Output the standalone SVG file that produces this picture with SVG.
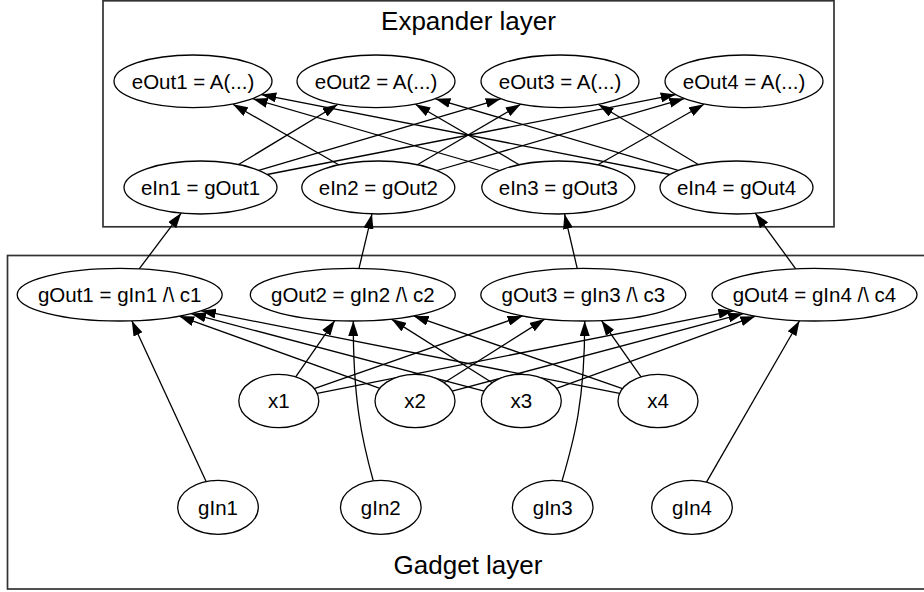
<svg xmlns="http://www.w3.org/2000/svg" width="924" height="592" viewBox="0 0 924 592">
<style>
.cl{fill:none;stroke:#333;stroke-width:1.7}
.nd ellipse{fill:#fff;stroke:#000;stroke-width:1.3}
.nd text{font-family:"Liberation Sans",Arial,sans-serif;font-size:20.5px;text-anchor:middle;fill:#000}
.tt{font-family:"Liberation Sans",Arial,sans-serif;font-size:26px;text-anchor:middle;fill:#000}
.e line,.e path{stroke:#000;stroke-width:1.3;fill:none;marker-end:url(#ah)}
</style>
<defs>
<marker id="ah" markerUnits="userSpaceOnUse" viewBox="0 0 15 10" refX="15" refY="5" markerWidth="15" markerHeight="10" orient="auto">
<path d="M0,0 L15,5 L0,10 z" fill="#000"/>
</marker>
</defs>
<rect width="924" height="592" fill="#fff"/>
<g id="cluster_expander">
<rect class="cl" x="103" y="0.8" width="731" height="226"/>
<text class="tt" x="468.5" y="30">Expander layer</text>
</g>
<g id="cluster_gadget">
<rect class="cl" x="7.5" y="255.5" width="922" height="333.5"/>
<text class="tt" x="468" y="574">Gadget layer</text>
</g>
<g id="edges" class="e">
<line x1="238.5" y1="164.5" x2="337.7" y2="104.5"/>
<line x1="258.7" y1="170.3" x2="500.7" y2="98.8"/>
<line x1="267.1" y1="174.5" x2="675.7" y2="94.6"/>
<line x1="338.7" y1="164.8" x2="232.9" y2="104.2"/>
<line x1="417.3" y1="164.7" x2="520.7" y2="104.3"/>
<line x1="436.9" y1="170.5" x2="684.3" y2="98.6"/>
<line x1="499.7" y1="170.5" x2="252.7" y2="98.7"/>
<line x1="519.2" y1="164.7" x2="415.4" y2="104.3"/>
<line x1="597.9" y1="164.8" x2="704" y2="104.2"/>
<line x1="669.9" y1="174.5" x2="261.3" y2="94.6"/>
<line x1="678.2" y1="170.3" x2="435.4" y2="98.8"/>
<line x1="698.3" y1="164.5" x2="598.5" y2="104.5"/>
<line x1="139.2" y1="268.9" x2="181.2" y2="213.1"/>
<line x1="359" y1="268.4" x2="372" y2="213.9"/>
<line x1="577.2" y1="268.4" x2="564.5" y2="213.9"/>
<line x1="795.7" y1="268.8" x2="755.2" y2="213.2"/>
<line x1="295.7" y1="376.8" x2="334.8" y2="320.6"/>
<line x1="314.2" y1="388.6" x2="522.6" y2="315.9"/>
<line x1="317.2" y1="393.4" x2="733.4" y2="310.8"/>
<line x1="379.8" y1="388.3" x2="179.2" y2="316.1"/>
<line x1="444.1" y1="382.7" x2="544.7" y2="319.1"/>
<line x1="452.2" y1="391.1" x2="743.3" y2="313.6"/>
<line x1="484.1" y1="391.2" x2="191" y2="313.6"/>
<line x1="492.2" y1="382.7" x2="391.4" y2="319.1"/>
<line x1="556.5" y1="388.3" x2="755.3" y2="316.2"/>
<line x1="619.6" y1="393.4" x2="200.9" y2="310.7"/>
<line x1="622.5" y1="388.6" x2="413.6" y2="315.9"/>
<line x1="641" y1="376.8" x2="601.5" y2="320.6"/>
<line x1="206.1" y1="481.5" x2="131.8" y2="320.8"/>
<path d="M373.3,481 C362,440 353,400 353.3,321"/>
<path d="M562,481 C574,440 585,400 584.7,321"/>
<line x1="706.5" y1="482.1" x2="799.5" y2="320.7"/>
</g>
<g id="eOut1" class="nd"><ellipse cx="193" cy="81.3" rx="79" ry="26.3"/><text x="193" y="88.8">eOut1 = A(...)</text></g>
<g id="eOut2" class="nd"><ellipse cx="376" cy="81.3" rx="79" ry="26.3"/><text x="376" y="88.8">eOut2 = A(...)</text></g>
<g id="eOut3" class="nd"><ellipse cx="560" cy="81.3" rx="79" ry="26.3"/><text x="560" y="88.8">eOut3 = A(...)</text></g>
<g id="eOut4" class="nd"><ellipse cx="744" cy="81.3" rx="79" ry="26.3"/><text x="744" y="88.8">eOut4 = A(...)</text></g>
<g id="eIn1" class="nd"><ellipse cx="200.5" cy="187.5" rx="76.5" ry="26.5"/><text x="200.5" y="195">eIn1 = gOut1</text></g>
<g id="eIn2" class="nd"><ellipse cx="378.3" cy="187.5" rx="76.5" ry="26.5"/><text x="378.3" y="195">eIn2 = gOut2</text></g>
<g id="eIn3" class="nd"><ellipse cx="558.3" cy="187.5" rx="76.5" ry="26.5"/><text x="558.3" y="195">eIn3 = gOut3</text></g>
<g id="eIn4" class="nd"><ellipse cx="736.5" cy="187.5" rx="76.5" ry="26.5"/><text x="736.5" y="195">eIn4 = gOut4</text></g>
<g id="gOut1" class="nd"><ellipse cx="119.7" cy="294.7" rx="102.5" ry="26.3"/><text x="119.7" y="302">gOut1 = gIn1 /\ c1</text></g>
<g id="gOut2" class="nd"><ellipse cx="352.8" cy="294.7" rx="102.5" ry="26.3"/><text x="352.8" y="302">gOut2 = gIn2 /\ c2</text></g>
<g id="gOut3" class="nd"><ellipse cx="583.3" cy="294.7" rx="102.5" ry="26.3"/><text x="583.3" y="302">gOut3 = gIn3 /\ c3</text></g>
<g id="gOut4" class="nd"><ellipse cx="814.5" cy="294.7" rx="102.5" ry="26.3"/><text x="814.5" y="302">gOut4 = gIn4 /\ c4</text></g>
<g id="x1" class="nd"><ellipse cx="278.8" cy="401" rx="40" ry="26.7"/><text x="278.8" y="408.3">x1</text></g>
<g id="x2" class="nd"><ellipse cx="415" cy="401" rx="40" ry="26.7"/><text x="415" y="408.3">x2</text></g>
<g id="x3" class="nd"><ellipse cx="521.3" cy="401" rx="40" ry="26.7"/><text x="521.3" y="408.3">x3</text></g>
<g id="x4" class="nd"><ellipse cx="658" cy="401" rx="40" ry="26.7"/><text x="658" y="408.3">x4</text></g>
<g id="gIn1" class="nd"><ellipse cx="218" cy="507.3" rx="40.3" ry="27"/><text x="218" y="514.6">gIn1</text></g>
<g id="gIn2" class="nd"><ellipse cx="380.8" cy="507.3" rx="40.3" ry="27"/><text x="380.8" y="514.6">gIn2</text></g>
<g id="gIn3" class="nd"><ellipse cx="552.7" cy="507.3" rx="40.3" ry="27"/><text x="552.7" y="514.6">gIn3</text></g>
<g id="gIn4" class="nd"><ellipse cx="692" cy="507.3" rx="40.3" ry="27"/><text x="692" y="514.6">gIn4</text></g>
</svg>
